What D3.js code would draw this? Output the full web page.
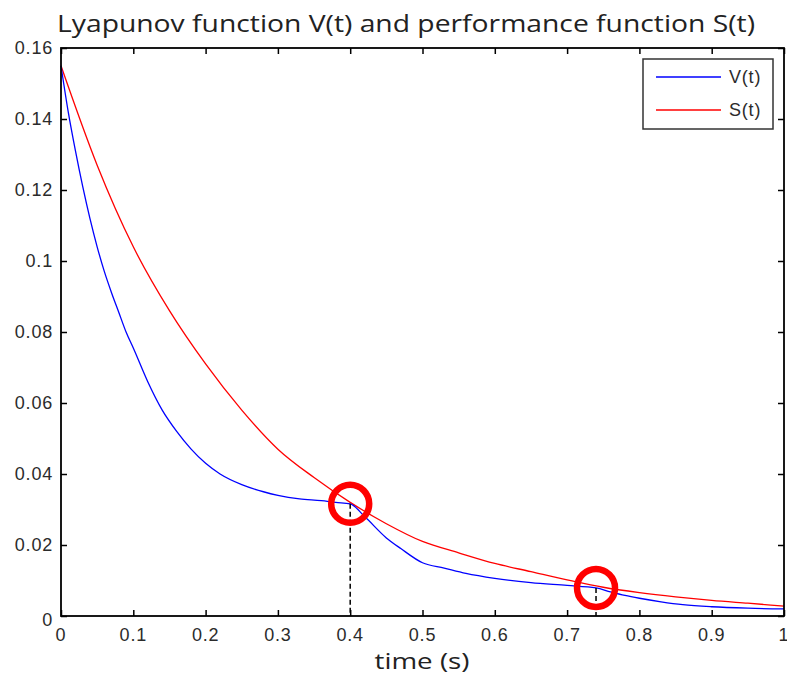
<!DOCTYPE html>
<head>
  <meta charset="utf-8">
  <script src="https://d3js.org/d3.v7.min.js"></script>
  <style>
    body { margin:0; background:#fff; }
    .tick-label { font-family: "Liberation Sans", Arial, sans-serif; font-size: 18px; fill: #2b2b2b; letter-spacing: 0.8px; }
    .title { font-family: "Open Sans", "Noto Sans", sans-serif; font-size: 24px; fill: #222; }
  </style>
</head>

<body>
  <script>
  // ---------- data ------------------------------------
    var vTime = [0, 0.01, 0.02, 0.03, 0.04, 0.05, 0.06, 0.07, 0.08, 0.09, 0.10, 0.12, 0.14, 0.16, 0.18, 0.20,
                 0.22, 0.25, 0.28, 0.30, 0.33, 0.36, 0.38, 0.40, 0.42, 0.45, 0.47, 0.50, 0.53, 0.56, 0.60,
                 0.65, 0.70, 0.74, 0.76, 0.78, 0.80, 0.83, 0.86, 0.90, 0.95, 1.00];
    var vValues = [0.155, 0.142, 0.131, 0.121, 0.112, 0.104, 0.097, 0.091, 0.0855, 0.080, 0.0755, 0.066, 0.058, 0.052, 0.047, 0.043,
                   0.040, 0.037, 0.035, 0.034, 0.0330, 0.0325, 0.0320, 0.0316, 0.028, 0.022, 0.019, 0.015, 0.0135, 0.0120, 0.0106,
                   0.0094, 0.0086, 0.0079, 0.0068, 0.0058, 0.0050, 0.0040, 0.0032, 0.0026, 0.0022, 0.0020];
    var sTime = [0, 0.05, 0.10, 0.15, 0.20, 0.25, 0.30, 0.35, 0.40, 0.45, 0.50, 0.55, 0.60, 0.65, 0.70,
                 0.75, 0.80, 0.85, 0.90, 0.95, 1.00];
    var sValues = [0.155, 0.127, 0.104, 0.086, 0.071, 0.058, 0.047, 0.039, 0.032, 0.026, 0.021, 0.0178, 0.0148, 0.0125, 0.0102,
                   0.0081, 0.0066, 0.0054, 0.0044, 0.0036, 0.0028];
    var markTime = [0.4, 0.74];
    var markValues = [0.0316, 0.0079];
    var xTicks = [0, 0.1, 0.2, 0.3, 0.4, 0.5, 0.6, 0.7, 0.8, 0.9, 1];
    var yTicks = [0, 0.02, 0.04, 0.06, 0.08, 0.1, 0.12, 0.14, 0.16];
    var seriesNames = ["V(t)", "S(t)"];
    var seriesColors = ["#0000ff", "#ff0000"];

  // ---------- svg ---------------
    var width = 787, height = 677;
    var svg = d3.select("body").append("svg")
      .attr("width", width)
      .attr("height", height);

    var box = {left: 61, right: 784, top: 48, bottom: 616};

    var x = d3.scaleLinear().domain([0, 1]).range([box.left, box.right]);
    var y = d3.scaleLinear().domain([0, 0.16]).range([box.bottom, box.top]);

    svg.append("text")
      .attr("class", "title")
      .attr("x", 406)
      .attr("y", 32)
      .attr("text-anchor", "middle")
      .attr("textLength", 698)
      .attr("lengthAdjust", "spacingAndGlyphs")
      .text("Lyapunov function V(t) and performance function S(t)");

  // ---------- lines ---------------
    var line = d3.line()
      .curve(d3.curveMonotoneX)
      .x(d => x(d[0]))
      .y(d => y(d[1]));

    var vData = vTime.map((t, i) => [t, vValues[i]]);
    var sData = sTime.map((t, i) => [t, sValues[i]]);

    svg.append("path")
      .datum(sData)
      .attr("d", line)
      .attr("fill", "none")
      .attr("stroke", seriesColors[1])
      .attr("stroke-width", 1.3);

    svg.append("path")
      .datum(vData)
      .attr("d", line)
      .attr("fill", "none")
      .attr("stroke", seriesColors[0])
      .attr("stroke-width", 1.3);

  // ---------- dashed drops and circles ---------------
    markTime.forEach(function(t, i) {
      svg.append("line")
        .attr("x1", x(t)).attr("x2", x(t))
        .attr("y1", y(markValues[i])).attr("y2", y(0))
        .attr("stroke", "#000")
        .attr("stroke-width", 1.5)
        .attr("stroke-dasharray", "5,3");
      svg.append("circle")
        .attr("cx", x(t))
        .attr("cy", y(markValues[i]))
        .attr("r", 19)
        .attr("fill", "none")
        .attr("stroke", "#ff0000")
        .attr("stroke-width", 6.5);
    });

  // ---------- axes box ---------------
    var xAxisB = d3.axisBottom(x).tickValues(xTicks).tickSize(-6).tickFormat("");
    var xAxisT = d3.axisTop(x).tickValues(xTicks).tickSize(-6).tickFormat("");
    var yAxisL = d3.axisLeft(y).tickValues(yTicks).tickSize(-6).tickFormat("");
    var yAxisR = d3.axisRight(y).tickValues(yTicks).tickSize(-6).tickFormat("");

    function styleAxis(g) {
      g.select(".domain").remove();
      g.selectAll("line").attr("stroke", "#000").attr("stroke-width", 1.5);
    }
    svg.append("g").attr("transform", "translate(0," + box.bottom + ")").call(xAxisB).call(styleAxis);
    svg.append("g").attr("transform", "translate(0," + box.top + ")").call(xAxisT).call(styleAxis);
    svg.append("g").attr("transform", "translate(" + box.left + ",0)").call(yAxisL).call(styleAxis);
    svg.append("g").attr("transform", "translate(" + box.right + ",0)").call(yAxisR).call(styleAxis);

    svg.append("rect")
      .attr("x", box.left).attr("y", box.top)
      .attr("width", box.right - box.left)
      .attr("height", box.bottom - box.top)
      .attr("fill", "none")
      .attr("stroke", "#000")
      .attr("stroke-width", 1.8);

  // ---------- tick labels ---------------
    svg.selectAll(".xlab").data(xTicks).enter().append("text")
      .attr("class", "tick-label")
      .attr("x", d => x(d))
      .attr("y", 641)
      .attr("text-anchor", "middle")
      .text(d => d3.format("")(d));

    svg.selectAll(".ylab").data(yTicks).enter().append("text")
      .attr("class", "tick-label")
      .attr("x", 53)
      .attr("y", d => y(d) + 6 + (d === 0 ? 4 : 0))
      .attr("text-anchor", "end")
      .text(d => d3.format("")(d));

    svg.append("text")
      .attr("class", "title")
      .attr("x", 422)
      .attr("y", 669)
      .style("font-size", "22px")
      .attr("text-anchor", "middle")
      .attr("textLength", 95)
      .attr("lengthAdjust", "spacingAndGlyphs")
      .text("time (s)");

  // ---------- legend ---------------
    var legend = svg.append("g");
    legend.append("rect")
      .attr("x", 643).attr("y", 59)
      .attr("width", 130).attr("height", 70)
      .attr("fill", "#fff")
      .attr("stroke", "#333")
      .attr("stroke-width", 1.5);

    seriesNames.forEach(function(name, i) {
      var ly = 77 + i * 33;
      legend.append("line")
        .attr("x1", 656).attr("x2", 721)
        .attr("y1", ly).attr("y2", ly)
        .attr("stroke", seriesColors[i])
        .attr("stroke-width", 1.3);
      legend.append("text")
        .attr("class", "tick-label")
        .attr("x", 729)
        .attr("y", ly + 6)
        .text(name);
    });
  </script>
</body>
